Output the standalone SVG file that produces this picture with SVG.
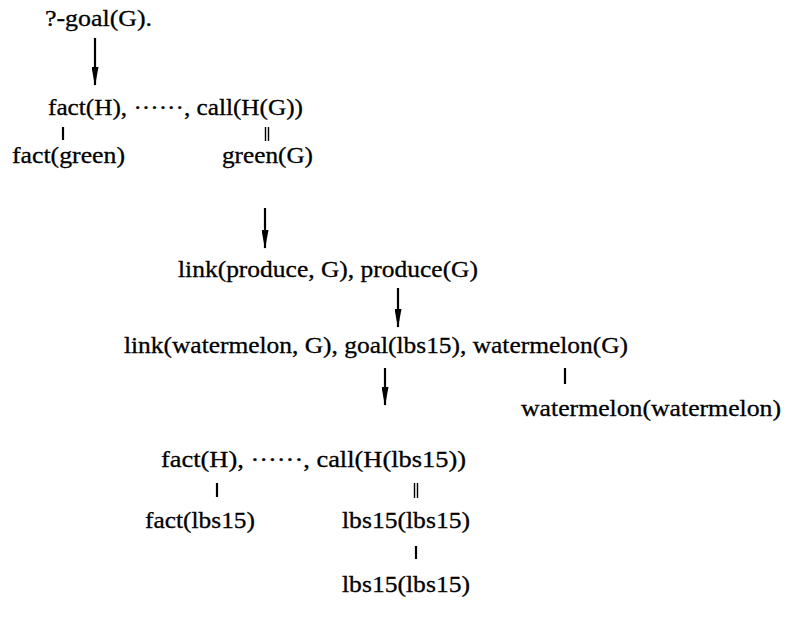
<svg xmlns="http://www.w3.org/2000/svg" width="790" height="627" viewBox="0 0 790 627">
<style>
text{font-family:"Liberation Serif","Times New Roman",serif;font-size:24px;fill:#000;stroke:#000;stroke-width:0.3}
.ln{stroke:#000;stroke-width:2.2;fill:none}
.dl{stroke:#000;stroke-width:1.4;fill:none}
</style>
<defs>
<marker id="ah" markerUnits="userSpaceOnUse" markerWidth="19" markerHeight="7" refX="18" refY="3.5" orient="auto" viewBox="0 0 19 7">
<path d="M0,0 L19,3.5 L0,7 Z" fill="#000"/>
</marker>
</defs>
<rect width="790" height="627" fill="#fff"/>
<g id="n1"><text x="45" y="26" textLength="107" lengthAdjust="spacingAndGlyphs">?-goal(G).</text></g>
<g id="n2"><text x="48" y="115" textLength="255" lengthAdjust="spacingAndGlyphs">fact(H), ······, call(H(G))</text></g>
<g id="n3"><text x="12" y="163" textLength="113" lengthAdjust="spacingAndGlyphs">fact(green)</text></g>
<g id="n4"><text x="222" y="163" textLength="91" lengthAdjust="spacingAndGlyphs">green(G)</text></g>
<g id="n5"><text x="178" y="277" textLength="300" lengthAdjust="spacingAndGlyphs">link(produce, G), produce(G)</text></g>
<g id="n6"><text x="124" y="353" textLength="504" lengthAdjust="spacingAndGlyphs">link(watermelon, G), goal(lbs15), watermelon(G)</text></g>
<g id="n7"><text x="521" y="416" textLength="260" lengthAdjust="spacingAndGlyphs">watermelon(watermelon)</text></g>
<g id="n8"><text x="161" y="467" textLength="305" lengthAdjust="spacingAndGlyphs">fact(H), ······, call(H(lbs15))</text></g>
<g id="n9"><text x="145" y="528" textLength="110" lengthAdjust="spacingAndGlyphs">fact(lbs15)</text></g>
<g id="n10"><text x="342" y="528" textLength="128" lengthAdjust="spacingAndGlyphs">lbs15(lbs15)</text></g>
<g id="n11"><text x="342" y="592" textLength="128" lengthAdjust="spacingAndGlyphs">lbs15(lbs15)</text></g>
<g id="connectors">
<line class="ln" x1="95" y1="38" x2="95" y2="85" marker-end="url(#ah)"/>
<line class="ln" x1="63" y1="127" x2="63" y2="140"/>
<line class="dl" x1="265.5" y1="127" x2="265.5" y2="141"/>
<line class="dl" x1="268.5" y1="127" x2="268.5" y2="141"/>
<line class="ln" x1="265" y1="208" x2="265" y2="248" marker-end="url(#ah)"/>
<line class="ln" x1="398" y1="288" x2="398" y2="327" marker-end="url(#ah)"/>
<line class="ln" x1="385" y1="368" x2="385" y2="405" marker-end="url(#ah)"/>
<line class="ln" x1="565" y1="368" x2="565" y2="384"/>
<line class="ln" x1="217" y1="483" x2="217" y2="497"/>
<line class="dl" x1="414.5" y1="483" x2="414.5" y2="498"/>
<line class="dl" x1="417.5" y1="483" x2="417.5" y2="498"/>
<line class="ln" x1="416" y1="546" x2="416" y2="559"/>
</g>
</svg>
